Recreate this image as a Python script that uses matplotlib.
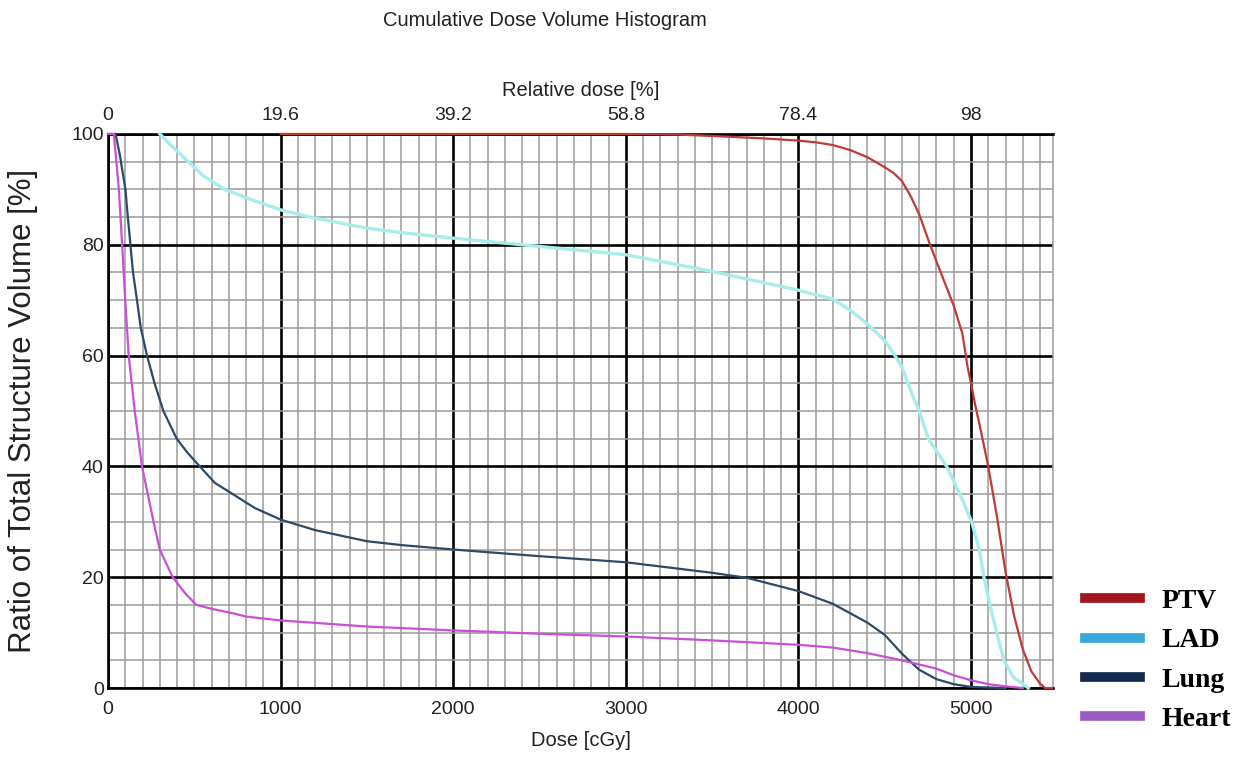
import matplotlib
matplotlib.use('Agg')
import matplotlib.pyplot as plt
import numpy as np
from matplotlib.lines import Line2D

# Valores (dose em cGy, volume em %)
ptv_dose = [1000, 3000, 3300, 3600, 3800, 4000, 4100, 4200, 4300, 4400, 4500, 4550, 4600, 4650, 4700,
            4763, 4800, 4850, 4900, 4950, 4980, 5000, 5025, 5050, 5100, 5150, 5200, 5250, 5300,
            5350, 5400, 5430, 5470]
ptv_vol = [100, 100, 99.9, 99.5, 99.2, 98.8, 98.5, 98, 97.1, 95.8, 94, 93, 91.5, 88.8, 85.5,
           80, 77, 73, 69, 64, 58, 55, 51, 47.5, 40, 31, 21, 13, 7,
           3, 0.8, 0, 0]

lad_dose = [300, 380, 465, 550, 675, 800, 1000, 1200, 1500, 1700, 2000, 2400, 3000, 3500, 4000,
            4200, 4300, 4400, 4500, 4550, 4600, 4650, 4700, 4753, 4859, 4936, 5004, 5048, 5075,
            5110, 5149, 5191, 5245, 5332]
lad_vol = [100, 97.5, 95, 92.5, 90, 88.5, 86.3, 84.8, 83, 82.2, 81.2, 80, 78.2, 75.2, 71.8,
           70.2, 68.2, 65.7, 62.7, 60.5, 57.9, 53.7, 50, 45, 40, 35, 30, 25, 20,
           15, 10, 5, 2, 0]

lung_dose = [0, 44, 70, 80, 101, 115, 130, 145, 168, 190, 226, 270, 321, 398, 460, 532, 620, 723,
             850, 1000, 1200, 1500, 1700, 2000, 2500, 3000, 3500, 3700, 4000, 4200, 4400, 4500,
             4600, 4700, 4800, 4900, 5000, 5200]
lung_vol = [100, 100, 96, 94, 90, 85, 80, 75, 70, 65, 60, 55, 50, 45, 42.5, 40, 37, 35,
            32.5, 30.4, 28.5, 26.5, 25.8, 25, 23.8, 22.7, 20.8, 19.9, 17.5, 15.2, 11.8, 9.6,
            6.2, 3.3, 1.6, 0.7, 0.2, 0]

heart_dose = [0, 34, 63, 82, 100, 120, 155, 197, 264, 300, 375, 450, 512, 600, 723, 800, 1000,
              1500, 2000, 2500, 3000, 3500, 4000, 4200, 4400, 4600, 4800, 4900, 5000, 5100,
              5200, 5300]
heart_vol = [100, 100, 90, 80, 70, 60, 50, 40, 30, 25, 20, 17, 15, 14.3, 13.5, 12.9, 12.2,
             11.1, 10.4, 9.8, 9.3, 8.6, 7.8, 7.3, 6.3, 5.0, 3.5, 2.3, 1.4, 0.7,
             0.3, 0]

dose_ticks = [0, 1000, 2000, 3000, 4000, 5000]
rel_labels = ['0', '19.6', '39.2', '58.8', '78.4', '98']
vol_ticks = [0, 20, 40, 60, 80, 100]

nomes = ['PTV', 'LAD', 'Lung', 'Heart']
cores_curva = ['#c0393b', '#a8ecec', '#2c4a66', '#c94fd6']
cores_legenda = ['#a3151f', '#3aa7d9', '#152a4f', '#9c5cc8']

fonte = ['Liberation Sans', 'DejaVu Sans']
cor_texto = '#222222'

fig = plt.figure(figsize=(12.47, 7.59), dpi=100)
ax = fig.add_axes([0.0866, 0.0935, 0.7578, 0.73])

# Grade
ax.set_xlim(0, 5475)
ax.set_ylim(0, 100)
ax.set_xticks(dose_ticks)
ax.set_xticks(np.arange(0, 5475, 100), minor=True)
ax.set_yticks(vol_ticks)
ax.set_yticks(np.arange(0, 101, 5), minor=True)
ax.grid(which='minor', color='#9a9a9a', linewidth=1.1, zorder=0)
ax.grid(which='major', color='black', linewidth=1.9, zorder=1)
ax.set_axisbelow(True)
for s in ax.spines.values():
    s.set_color('black')
    s.set_linewidth(1.9)
ax.spines['right'].set_color('#9a9a9a')
ax.spines['right'].set_linewidth(1.1)

ax.tick_params(which='both', length=0)
ax.tick_params(axis='x', pad=9)
ax.tick_params(axis='y', pad=3)
ax.set_xticklabels([str(t) for t in dose_ticks], fontsize=14, family=fonte, color=cor_texto)
ax.set_yticklabels([str(t) for t in vol_ticks], fontsize=14, family=fonte, color=cor_texto)

# Curvas
series = [(ptv_dose, ptv_vol), (lad_dose, lad_vol), (lung_dose, lung_vol), (heart_dose, heart_vol)]
for (d, v), cor in zip(series, cores_curva):
    lw = 2.4 if cor == '#a8ecec' else 1.6
    ax.plot(d, v, color=cor, linewidth=lw, zorder=5, clip_on=False, solid_joinstyle='round')

ax.set_xlabel('Dose [cGy]', fontsize=14.5, family=fonte, color=cor_texto, labelpad=10)
ax.set_ylabel('Ratio of Total Structure Volume [%]', fontsize=22.5, family=fonte, color=cor_texto)
ax.yaxis.set_label_coords(-0.074, 0.5)

# Eixo superior (dose relativa)
ax2 = ax.twiny()
ax2.set_xlim(ax.get_xlim())
ax2.set_xticks(dose_ticks)
ax2.set_xticklabels(rel_labels, fontsize=14, family=fonte, color=cor_texto)
ax2.tick_params(length=0, pad=7)
for s in ax2.spines.values():
    s.set_visible(False)
ax2.set_xlabel('Relative dose [%]', fontsize=14.5, family=fonte, color=cor_texto, labelpad=8)

fig.text(0.437, 0.973, 'Cumulative Dose Volume Histogram', fontsize=14.5, family=fonte,
         color=cor_texto, ha='center', va='center')

# Legenda
handles = [Line2D([0], [0], color=c, linewidth=7) for c in cores_legenda]
fig.legend(handles, nomes, loc='upper left', bbox_to_anchor=(0.861, 0.239), frameon=False,
           prop={'family': ['Liberation Serif', 'DejaVu Serif'], 'weight': 'bold', 'size': 20},
           handlelength=2.0, handletextpad=0.75, labelspacing=0.5, borderaxespad=0)

fig.savefig('out.png', dpi=100)
